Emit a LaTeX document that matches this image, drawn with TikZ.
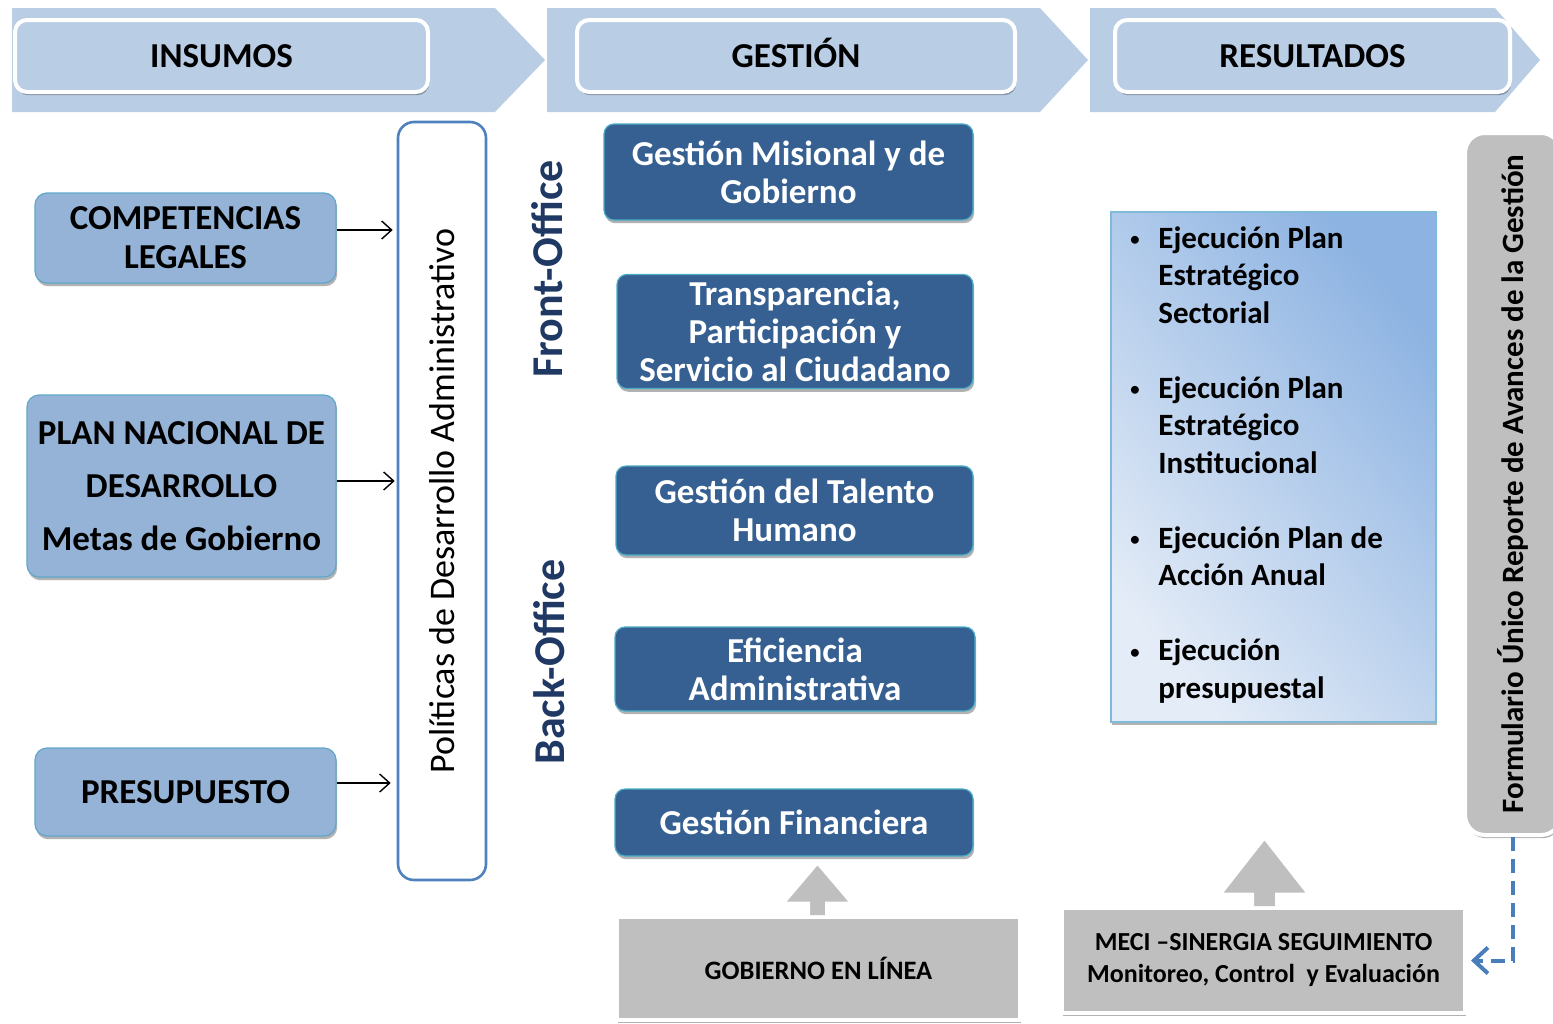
\documentclass[tikz,border=0pt]{standalone}
\usepackage{fontspec}
\setmainfont{Carlito}
\usetikzlibrary{arrows.meta,shadows,calc}
\definecolor{band}{HTML}{B9CDE5}
\definecolor{lbox}{HTML}{95B3D7}
\definecolor{lborder}{HTML}{5FA7C9}
\definecolor{dbox}{HTML}{366092}
\definecolor{dborder}{HTML}{4BACC6}
\definecolor{polb}{HTML}{4F81BD}
\definecolor{grayb}{HTML}{BFBFBF}
\definecolor{navy}{HTML}{1F3864}
\definecolor{resdark}{HTML}{8DB3E2}
\definecolor{reslight}{HTML}{E4ECF7}
\definecolor{resborder}{HTML}{7FBAD8}
\definecolor{dashc}{HTML}{4A7EBB}
\newcommand{\rbul}{\makebox[14pt][l]{\raisebox{0.15ex}{\scalebox{0.6}{\textbullet}}}}
\newcommand{\rind}{\hspace*{14pt}}
\tikzset{
  sh/.style={drop shadow={shadow xshift=0.6pt,shadow yshift=-1.6pt,opacity=0.3,fill=black}},
  titlebox/.style={draw=white,line width=2pt,fill=band,rounded corners=6pt,sh,text height=12pt,text depth=1pt,font=\fontsize{17.5}{21}\selectfont\bfseries},
  inbox/.style={draw=lborder,line width=0.6pt,fill=lbox,rounded corners=6pt,sh,align=center,font=\fontsize{17.5}{19.5}\selectfont\bfseries},
  gbox/.style={draw=dborder,line width=0.6pt,fill=dbox,rounded corners=5pt,sh,align=center,text=white,font=\fontsize{17.5}{19}\selectfont\bfseries},
  graybox/.style={draw=white,line width=2pt,fill=grayb,sh,align=center,font=\fontsize{13}{16}\selectfont\bfseries},
  inarrow/.style={draw=black,line width=0.7pt,-{Straight Barb[length=5pt,width=9pt]},shorten >=2pt},
  blockarrow/.style={fill=grayb,draw=white,line width=1.5pt},
  dasharrow/.style={draw=dashc,line width=2pt,dash pattern=on 7pt off 4pt,-{Straight Barb[length=7pt,width=13pt,line width=2pt]},shorten >=2pt},
  office/.style={text=navy,font=\fontsize{22}{26}\selectfont\bfseries,rotate=90},
}
\begin{document}
\begin{tikzpicture}[x=0.5pt,y=-0.5pt]
\useasboundingbox (0,0) rectangle (1553,1023);
% chevron bands
\fill[band] (12,8) -- (495,8) -- (545,60) -- (495,112) -- (12,112) -- cycle;
\fill[band] (547,8) -- (1040,8) -- (1088,60) -- (1040,112) -- (547,112) -- cycle;
\fill[band] (1090,8) -- (1495,8) -- (1540,60) -- (1495,112) -- (1090,112) -- cycle;
% titles
\node[titlebox,minimum width=206.5pt,minimum height=36pt] (tin) at (221.5,56) {INSUMOS};
\node[titlebox,minimum width=219pt,minimum height=36pt] (tge) at (796,56) {GESTIÓN};
\node[titlebox,minimum width=197.5pt,minimum height=36pt] (tre) at (1312.5,56) {RESULTADOS};
% inputs
\node[inbox,minimum width=150.5pt,minimum height=45pt] (comp) at (185.5,238) {COMPETENCIAS\\LEGALES};
\node[inbox,font=\fontsize{17.5}{26.5}\selectfont\bfseries,minimum width=154.5pt,minimum height=91pt] (plan) at (181.5,486) {PLAN NACIONAL DE\\DESARROLLO\\Metas de Gobierno};
\node[inbox,minimum width=150.5pt,minimum height=44pt] (pres) at (185.5,792) {PRESUPUESTO};
% policies
\node[draw=polb,line width=1.3pt,fill=white,rounded corners=8pt,minimum width=44pt,minimum height=379pt] (pol) at (442,501) {\rotatebox{90}{\fontsize{18}{20}\selectfont Políticas de Desarrollo Administrativo}};
\coordinate (a1) at ([yshift=4pt]comp.east);
\coordinate (a2) at ([yshift=2.5pt]plan.east);
\coordinate (a3) at ([yshift=4.5pt]pres.east);
\draw[inarrow] (a1) -- (a1 -| pol.west);
\draw[inarrow,shorten >=1pt] (a2) -- (a2 -| pol.west);
\draw[inarrow,shorten >=3pt] (a3) -- (a3 -| pol.west);
% office labels
\node[office] (front) at (547,269) {Front-Office};
\node[office] (back) at (549,662) {Back-Office};
% management boxes
\node[gbox,minimum width=184.5pt,minimum height=48pt] (g1) at (788.5,172) {Gestión Misional y de\\Gobierno};
\node[gbox,minimum width=178pt,minimum height=55.5pt] (g2) at (795,331.5) {Transparencia,\\Participación y\\Servicio al Ciudadano};
\node[gbox,minimum width=178.5pt,minimum height=44.5pt] (g3) at (794.5,510.5) {Gestión del Talento\\Humano};
\node[gbox,minimum width=180pt,minimum height=42pt] (g4) at (795,669) {Eficiencia\\Administrativa};
\node[gbox,minimum width=179pt,minimum height=33.5pt] (g5) at (794,822.5) {Gestión Financiera};
% gray boxes
\node[graybox,font=\fontsize{13.3}{16}\selectfont\bfseries,minimum width=201.5pt,minimum height=51.5pt] (gob) at (818.5,968.5) {GOBIERNO EN LÍNEA};
\node[graybox,minimum width=201.5pt,minimum height=52.5pt] (meci) at (1263.5,960.5) {MECI –SINERGIA SEGUIMIENTO\\Monitoreo, Control~ y Evaluación};
% block arrows
\draw[blockarrow] ($(gob.north)+(-10,0)$) -- ($(gob.north)+(-10,-12)$) -- ($(gob.north)+(-35,-12)$) -- ($(gob.north)+(-1,-52)$) -- ($(gob.north)+(33,-12)$) -- ($(gob.north)+(8,-12)$) -- ($(gob.north)+(8,0)$);
\draw[blockarrow] ($(meci.north)+(-11,0)$) -- ($(meci.north)+(-11,-12)$) -- ($(meci.north)+(-43,-12)$) -- ($(meci.north)+(1,-68)$) -- ($(meci.north)+(45,-12)$) -- ($(meci.north)+(13,-12)$) -- ($(meci.north)+(13,0)$);
% results
\node[draw=resborder,line width=0.8pt,top color=resdark,bottom color=reslight,shading angle=-50,minimum width=162.5pt,minimum height=255pt,sh] (res) at (1273.5,467) {};
\node[anchor=north west,align=left,inner sep=0pt,font=\fontsize{15.5}{18.75}\selectfont\bfseries] (restext) at (1130,226) {%
\rbul Ejecución Plan\\
\rind Estratégico\\
\rind Sectorial\\[18.75pt]
\rbul Ejecución Plan\\
\rind Estratégico\\
\rind Institucional\\[18.75pt]
\rbul Ejecución Plan de\\
\rind Acción Anual\\[18.75pt]
\rbul Ejecución\\
\rind presupuestal};
% formulario
\node[draw=white,line width=2pt,fill=grayb,rounded corners=10pt,sh,minimum width=48pt,minimum height=351pt] (form) at (1513,484) {\rotatebox{90}{\fontsize{15.5}{18}\selectfont\bfseries Formulario Único Reporte de Avances de la Gestión}};
\draw[dasharrow] (form.south) |- (meci.east);
\end{tikzpicture}
\end{document}
